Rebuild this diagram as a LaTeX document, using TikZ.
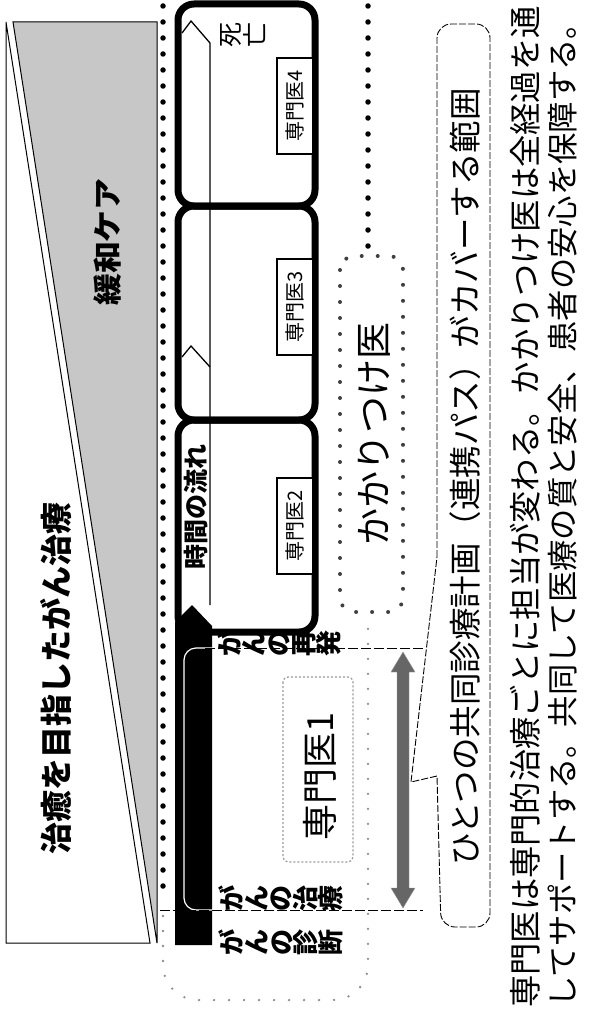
\documentclass[tikz,border=0pt]{standalone}
\usepackage{fontspec}
\setmainfont{Noto Sans CJK JP}
\begin{document}
\begin{tikzpicture}[x=1pt,y=-1pt,
  hz/.style={inner sep=0pt, rotate=90},
  tate/.style={inner sep=0pt, rotate=90, align=center},
  stagebox/.style={line width=7pt, rounded corners=16pt},
  bigdots/.style={line width=5.5pt, line cap=round, dash pattern=on 0pt off 16pt},
  meddots/.style={line width=4pt, line cap=round, dash pattern=on 0pt off 16pt, black!75},
  smalldots/.style={line width=2.6pt, line cap=round, dash pattern=on 0pt off 15pt, black!45},
  sepline/.style={line width=0.8pt, dash pattern=on 10pt off 3pt},
  calloutline/.style={line width=0.9pt, dash pattern=on 7pt off 2pt},
  minibox/.style={draw, line width=1.3pt, rotate=90, inner sep=0pt, minimum width=96pt, minimum height=36pt, fill=white, font=\fontsize{20}{20}\selectfont},
  thin/.style={line width=1pt}
]
\useasboundingbox (0,0) rectangle (589,1033);

% left: curative treatment wedge and palliative care wedge
\draw[thin, fill=black!22] (13,22) -- (157,22) -- (157,943) -- cycle;
\draw[thin, fill=white] (6,22) -- (6,943) -- (150,943) -- cycle;
\node[hz, font={\bfseries\fontsize{32}{32}\selectfont}] (cure) at (56,678) {治癒を目指したがん治療};
\node[hz, font={\bfseries\fontsize{29}{29}\selectfont}] (palliative) at (108,242) {\scalebox{1.1}[1]{緩和ケア}};

% big dotted outline
\draw[bigdots] (163,6) -- (163,900);
\draw[bigdots] (368,6) -- (368,248);
\draw[smalldots, rounded corners=35pt] (163,916) -- (163,1000) -- (368,1000) -- (368,622);

% family doctor box
\draw[meddots, rounded corners=14pt] (340,256) rectangle (403,612);
\node[hz, font={\fontsize{37}{37}\selectfont}] (kakari) at (374,434) {かかりつけ医};

% stage 1 black bar
\fill[black] (175,622) -- (192,605) -- (212,626) -- (212,945) -- (175,945) -- cycle;
\draw[white, line width=1.2pt, rounded corners=12pt] (213,648) -- (184,648) -- (184,910) -- (213,910);

% stage boxes
\draw[stagebox] (178,4) rectangle (315,206);
\draw[stagebox] (178,206) rectangle (315,420);
\draw[stagebox] (178,420) rectangle (315,632);

% time arrow
\draw[line width=1.3pt] (182,33) -- (191,21) -- (210,43) -- (210,605);
\draw[line width=1.3pt] (182,357) -- (191,346) -- (210,367);
\node[hz, font={\bfseries\fontsize{25}{25}\selectfont}] (time) at (196,507) {時間の流れ};

% specialists
\node[minibox] (s4) at (295,106) {専門医4};
\node[minibox] (s3) at (295,307) {専門医3};
\node[minibox] (s2) at (295,526) {専門医2};
\node[tate, font={\fontsize{25}{25}\selectfont}] (death) at (243,35) {死\\亡};

% stage 1
\draw[sepline] (160,910) -- (423,910);
\draw[sepline] (205,648) -- (423,648);
\draw[black!40, line width=1.2pt, dash pattern=on 2pt off 2pt, rounded corners=5pt] (283,677) rectangle (353,862);
\node[hz, font={\fontsize{36}{36}\selectfont}] (s1) at (320,776) {専門医1};
\node[tate, font={\bfseries\fontsize{26}{24.6}\selectfont}] (recur) at (279,643) {が\\ん\\の\\再\\発};
\node[tate, font={\bfseries\fontsize{26}{24.6}\selectfont}] (treat) at (281,898) {が\\ん\\の\\治\\療};
\node[tate, font={\bfseries\fontsize{26}{24.6}\selectfont}] (diag) at (281,942) {が\\ん\\の\\診\\断};

% gray double arrow
\fill[black!60, draw=black!40] (403,652) -- (415,672) -- (409,672) -- (409,888) -- (415,888) -- (403,908) -- (391,888) -- (397,888) -- (397,672) -- (391,672) -- cycle;
\coordinate (arrowmid) at (411,782);

% callout
\draw[calloutline] (437,557) {[rounded corners=14pt] -- (437,24) -- (490,24) -- (490,927) -- (441,927)} -- (437,776) -- (arrowmid) -- cycle;
\node[hz, font={\fontsize{32.5}{32.5}\selectfont}] (plan) at (465,477) {ひとつの共同診療計画（連携パス）がカバーする範囲};

% bottom explanation
\node[hz, anchor=west, font={\fontsize{32.3}{32.3}\selectfont}] (line1) at (525,1008) {専門医は専門的治療ごとに担当が変わる。かかりつけ医は全経過を通};
\node[hz, anchor=west, font={\fontsize{31.3}{31.3}\selectfont}] (line2) at (563,1008) {してサポートする。共同して医療の質と安全、患者の安心を保障する。};
\end{tikzpicture}
\end{document}
